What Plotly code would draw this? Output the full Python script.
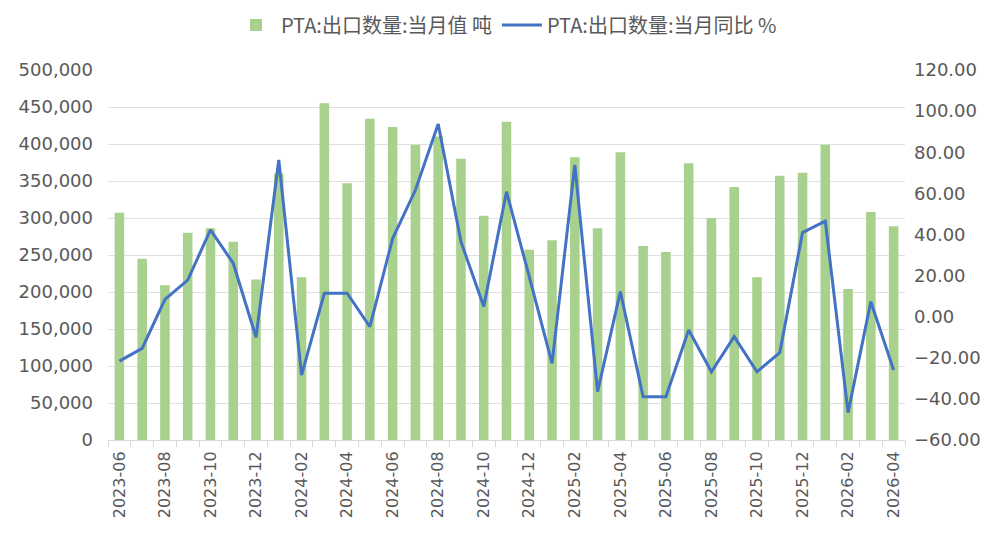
import plotly.graph_objects as go

months = ["2023-06","2023-07","2023-08","2023-09","2023-10","2023-11","2023-12",
          "2024-01","2024-02","2024-03","2024-04","2024-05","2024-06","2024-07",
          "2024-08","2024-09","2024-10","2024-11","2024-12","2025-01","2025-02",
          "2025-03","2025-04","2025-05","2025-06","2025-07","2025-08","2025-09",
          "2025-10","2025-11","2025-12","2026-01","2026-02","2026-03","2026-04"]

export_tons = [307000, 245000, 209000, 280000, 286000, 268000, 217000,
               360000, 220000, 455000, 347000, 434000, 423000, 399000,
               410000, 380000, 303000, 430000, 257000, 270000, 382000,
               286000, 389000, 262000, 254000, 374000, 300000, 342000,
               220000, 357000, 361000, 399000, 204000, 308000, 289000]

yoy_pct = [-21.6, -15.4, 8.4, 17.8, 42.2, 26.0, -10.0,
           76.2, -28.4, 11.4, 11.4, -4.9, 38.0, 61.6,
           93.7, 36.5, 4.9, 60.8, 19.5, -22.7, 73.8,
           -36.5, 12.2, -39.0, -39.0, -6.5, -26.8, -9.7,
           -26.8, -17.5, 40.9, 46.5, -46.7, 7.3, -25.9]

bar_name = "PTA:出口数量:当月值 吨"
line_name = "PTA:出口数量:当月同比 %"

x = list(range(len(months)))
label_idx = x[::2]

fig = go.Figure()
fig.add_trace(go.Bar(x=x, y=export_tons, name=bar_name,
                     marker=dict(color="#a9d18e", line=dict(width=0)),
                     yaxis="y"))
fig.add_trace(go.Scatter(x=x, y=yoy_pct, name=line_name, mode="lines",
                         line=dict(color="#4472c4", width=3),
                         yaxis="y2"))

tick_font = dict(family="DejaVu Sans, sans-serif", size=18, color="#595959")

fig.update_layout(
    width=983, height=529,
    margin=dict(l=100, r=86, t=62, b=97, autoexpand=False),
    paper_bgcolor="white", plot_bgcolor="white",
    bargap=0.58,
    showlegend=True,
    legend=dict(orientation="h", x=0.5, xanchor="center",
                yref="container", y=0.968, yanchor="middle",
                font=dict(family="Noto Sans CJK SC, sans-serif", size=20, color="#595959"),
                traceorder="normal", itemwidth=40),
    xaxis=dict(
        range=[-0.5, len(months) - 0.5],
        tickmode="array", tickvals=label_idx,
        ticktext=[months[i] for i in label_idx],
        tickangle=-90, ticks="", automargin=False, ticklabelstandoff=4,
        tickfont=dict(family="DejaVu Sans, sans-serif", size=16, color="#595959"),
        showgrid=False, zeroline=False,
        showline=True, linecolor="#d9d9d9", linewidth=1,
        minor=dict(tickmode="linear", tick0=-0.5, dtick=1, ticks="outside",
                   ticklen=6, tickcolor="#d9d9d9", showgrid=False),
    ),
    yaxis=dict(
        range=[0, 500000], dtick=50000, tickformat=",", automargin=False,
        ticklabelstandoff=14,
        tickfont=tick_font, showgrid=True, gridcolor="#e0e0e0", gridwidth=1,
        zeroline=False, showline=False, ticks="",
    ),
    yaxis2=dict(
        range=[-60, 120], dtick=20, tickformat=".2f", automargin=False,
        ticklabelstandoff=8,
        overlaying="y", side="right",
        tickfont=tick_font, showgrid=False, zeroline=False, showline=False, ticks="",
    ),
)

fig.write_html("out.html")
